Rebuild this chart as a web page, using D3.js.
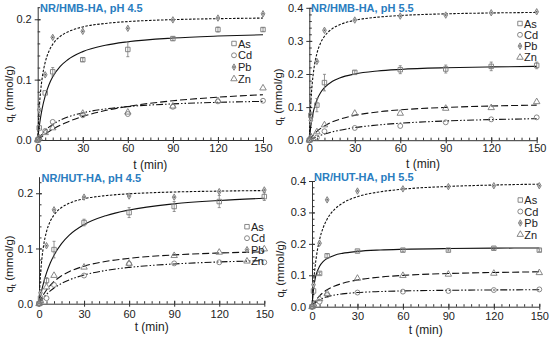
<!DOCTYPE html>
<html>
<head>
<meta charset="utf-8">
<script src="https://cdn.jsdelivr.net/npm/d3@7"></script>
<style>
  html, body { margin: 0; padding: 0; background: #fff; }
  svg { display: block; font-family: "Liberation Sans", Arial, sans-serif; }
</style>
</head>
<body>
<div id="chart"></div>
<script>
// sampling times of the measured points and of the fitted curves
const tData = [0, 1, 5, 10, 30, 60, 90, 120, 150];
const tFit = [0, 1, 2, 3, 5, 7.5, 10, 15, 20, 30, 45, 60, 90, 120, 150];
const metals = ["As", "Cd", "Pb", "Zn"];
const xTicks = [0, 30, 60, 90, 120, 150];

// NR/HMB-HA, pH 4.5
const hmb45As = [0, 0.020, 0.078, 0.113, 0.133, 0.150, 0.168, 0.183, 0.183];
const hmb45Cd = [0, 0.004, 0.015, 0.030, 0.041, 0.043, 0.055, 0.064, 0.065];
const hmb45Pb = [0, 0.050, 0.108, 0.170, 0.180, 0.185, 0.199, 0.202, 0.209];
const hmb45Zn = [0, 0.003, 0.012, 0.020, 0.044, 0.046, 0.056, 0.065, 0.086];
const hmb45AsErr = [0, 0, 0, 0.007, 0.003, 0.012, 0.003, 0.004, 0.003];
const hmb45AsFit = [0, 0.0215, 0.0385, 0.0523, 0.0732, 0.0915, 0.1046, 0.122, 0.133, 0.1464, 0.1569, 0.1627, 0.1689, 0.1722, 0.1743];
const hmb45CdFit = [0, 0.0038, 0.0073, 0.0104, 0.0158, 0.0213, 0.0258, 0.0328, 0.038, 0.045, 0.0514, 0.0553, 0.0598, 0.0624, 0.064];
const hmb45PbFit = [0, 0.0515, 0.0824, 0.103, 0.1288, 0.1471, 0.1585, 0.1717, 0.1791, 0.1873, 0.1931, 0.1962, 0.1994, 0.201, 0.202];
const hmb45ZnFit = [0, 0.0021, 0.0042, 0.0061, 0.0098, 0.0139, 0.0177, 0.0244, 0.030, 0.039, 0.0488, 0.0557, 0.065, 0.0709, 0.075];

// NR/HMB-HA, pH 5.5
const hmb55As = [0, 0.075, 0.106, 0.174, 0.205, 0.213, 0.215, 0.223, 0.226];
const hmb55Cd = [0, 0.003, 0.008, 0.027, 0.037, 0.043, 0.054, 0.063, 0.069];
const hmb55Pb = [0, 0.060, 0.238, 0.332, 0.363, 0.375, 0.378, 0.385, 0.388];
const hmb55Zn = [0, 0.010, 0.025, 0.046, 0.081, 0.081, 0.096, 0.098, 0.116];
const hmb55AsErr = [0, 0.01, 0.02, 0.025, 0.005, 0.012, 0.012, 0.013, 0.01];
const hmb55AsFit = [0, 0.0422, 0.0713, 0.0926, 0.1216, 0.1442, 0.159, 0.1771, 0.1879, 0.2, 0.209, 0.2138, 0.2188, 0.2214, 0.223];
const hmb55CdFit = [0, 0.0024, 0.0046, 0.0067, 0.0106, 0.0149, 0.0186, 0.025, 0.0302, 0.038, 0.0459, 0.0513, 0.0581, 0.0622, 0.065];
const hmb55PbFit = [0, 0.1121, 0.1744, 0.214, 0.2616, 0.2943, 0.3139, 0.3363, 0.3488, 0.3622, 0.3717, 0.3767, 0.3818, 0.3844, 0.386];
const hmb55ZnFit = [0, 0.0065, 0.0123, 0.0175, 0.0265, 0.0357, 0.0433, 0.0549, 0.0634, 0.075, 0.0854, 0.0917, 0.0991, 0.1033, 0.106];

// NR/HUT-HA, pH 4.5
const hut45As = [0, 0.010, 0.042, 0.098, 0.147, 0.165, 0.176, 0.185, 0.194];
const hut45Cd = [0, 0.004, 0.010, 0.034, 0.051, 0.072, 0.073, 0.075, 0.075];
const hut45Pb = [0, 0.020, 0.105, 0.170, 0.193, 0.195, 0.193, 0.203, 0.206];
const hut45Zn = [0, 0.005, 0.030, 0.051, 0.066, 0.073, 0.087, 0.093, 0.099];
const hut45AsErr = [0, 0, 0.005, 0.015, 0.006, 0.009, 0.009, 0.011, 0.007];
const hut45AsFit = [0, 0.0142, 0.0266, 0.0374, 0.0557, 0.0737, 0.0879, 0.1089, 0.1237, 0.1431, 0.1598, 0.1697, 0.1809, 0.187, 0.191];
const hut45CdFit = [0, 0.004, 0.0076, 0.011, 0.0169, 0.0231, 0.0284, 0.0367, 0.043, 0.052, 0.0604, 0.0657, 0.072, 0.0756, 0.078];
const hut45PbFit = [0, 0.0523, 0.0836, 0.1045, 0.1306, 0.1493, 0.1608, 0.1742, 0.1817, 0.19, 0.1959, 0.199, 0.2023, 0.2039, 0.2049];
const hut45ZnFit = [0, 0.0062, 0.0116, 0.0165, 0.0249, 0.0333, 0.0402, 0.0505, 0.0579, 0.068, 0.0768, 0.0822, 0.0884, 0.0918, 0.094];

// NR/HUT-HA, pH 5.5
const hut55As = [0, 0.050, 0.106, 0.162, 0.177, 0.180, 0.180, 0.186, 0.180];
const hut55Cd = [0, 0.004, 0.016, 0.037, 0.045, 0.048, 0.050, 0.053, 0.055];
const hut55Pb = [0, 0.070, 0.202, 0.340, 0.368, 0.375, 0.382, 0.385, 0.385];
const hut55Zn = [0, 0.008, 0.025, 0.042, 0.090, 0.099, 0.103, 0.106, 0.108];
const hut55AsErr = [0, 0, 0.004, 0.006, 0.003, 0.004, 0.003, 0.004, 0.004];
const hut55AsFit = [0, 0.0561, 0.0866, 0.1058, 0.1286, 0.1444, 0.1533, 0.1639, 0.1697, 0.176, 0.1804, 0.1827, 0.1851, 0.1863, 0.187];
const hut55CdFit = [0, 0.0064, 0.0115, 0.0156, 0.022, 0.0277, 0.0317, 0.0372, 0.0407, 0.045, 0.0483, 0.0502, 0.0522, 0.0533, 0.054];
const hut55PbFit = [0, 0.0744, 0.1254, 0.1627, 0.2135, 0.253, 0.2788, 0.3104, 0.329, 0.35, 0.3656, 0.374, 0.3827, 0.3872, 0.39];
const hut55ZnFit = [0, 0.009, 0.0167, 0.0234, 0.0346, 0.0453, 0.0537, 0.0658, 0.0742, 0.085, 0.0942, 0.0996, 0.1056, 0.1089, 0.111];

const width = 550;
const height = 339;

// layout of the four panels (pixel boxes), data hooked in by reference
const panels = [
  { title: "NR/HMB-HA, pH 4.5", x0: 37.7, x1: 263, y0: 140, y1: 7.2, yMax: 0.22, yTicks: [0, 0.1, 0.2],
    titleX: 40, titleY: 11.5, tickY: 152, labY: 169, qLabX: 13, qLabY: 94, legX: 234, legY: 43.5, legStep: 11.8,
    pts: [hmb45As, hmb45Cd, hmb45Pb, hmb45Zn], fit: [hmb45AsFit, hmb45CdFit, hmb45PbFit, hmb45ZnFit], err: hmb45AsErr },
  { title: "NR/HMB-HA, pH 5.5", x0: 309.3, x1: 536.7, y0: 140.2, y1: 7.8, yMax: 0.4, yTicks: [0, 0.1, 0.2, 0.3, 0.4],
    titleX: 311, titleY: 11.5, tickY: 152, labY: 168, qLabX: 282, qLabY: 97, legX: 520, legY: 23.5, legStep: 11.3,
    pts: [hmb55As, hmb55Cd, hmb55Pb, hmb55Zn], fit: [hmb55AsFit, hmb55CdFit, hmb55PbFit, hmb55ZnFit], err: hmb55AsErr },
  { title: "NR/HUT-HA, pH 4.5", x0: 39, x1: 264.3, y0: 303.7, y1: 176.7, yMax: 0.23, yTicks: [0, 0.1, 0.2],
    titleX: 41.5, titleY: 181.5, tickY: 318, labY: 331, qLabX: 13, qLabY: 264, legX: 247, legY: 226.7, legStep: 11.5,
    pts: [hut45As, hut45Cd, hut45Pb, hut45Zn], fit: [hut45AsFit, hut45CdFit, hut45PbFit, hut45ZnFit], err: hut45AsErr },
  { title: "NR/HUT-HA, pH 5.5", x0: 312, x1: 539.3, y0: 306.7, y1: 181, yMax: 0.4, yTicks: [0, 0.1, 0.2, 0.3, 0.4],
    titleX: 314, titleY: 181, tickY: 320.5, labY: 334, qLabX: 284, qLabY: 269, legX: 520.3, legY: 200, legStep: 11.5,
    pts: [hut55As, hut55Cd, hut55Pb, hut55Zn], fit: [hut55AsFit, hut55CdFit, hut55PbFit, hut55ZnFit], err: hut55AsErr },
];

const dashes = { As: null, Cd: "7,2,1.5,2,1.5,2", Pb: "2.5,1.5", Zn: "7,3" };
const symbols = { As: d3.symbolSquare, Cd: d3.symbolCircle, Pb: d3.symbolDiamond, Zn: d3.symbolTriangle };
const symSize = { As: 20, Cd: 19, Pb: 12, Zn: 18 };
const markColor = "#7a7a7a";

const svg = d3.select("#chart")
  .append("svg")
  .attr("width", width)
  .attr("height", height);

function marker(sel, m) {
  sel.append("path")
    .attr("d", d3.symbol(symbols[m], symSize[m])())
    .attr("fill", m === "Pb" ? "#cfcfcf" : "none")
    .attr("stroke", markColor)
    .attr("stroke-width", 0.9);
  if (m === "Pb") {
    sel.append("circle").attr("r", 0.8).attr("fill", "#555");
  }
}

panels.forEach(p => {
  const x = d3.scaleLinear().domain([0, 150]).range([p.x0, p.x1]);
  const y = d3.scaleLinear().domain([0, p.yMax]).range([p.y0, p.y1]);
  const g = svg.append("g");

  // minor ticks
  g.append("g")
    .attr("transform", `translate(0,${p.y0})`)
    .call(d3.axisBottom(x).tickValues(d3.range(0, 151, 5)).tickSize(-2.5).tickFormat("").tickSizeOuter(0))
    .call(a => a.select(".domain").remove());
  g.append("g")
    .attr("transform", `translate(${p.x0},0)`)
    .call(d3.axisLeft(y).tickValues(d3.range(0, p.yMax + 1e-9, 0.02)).tickSize(-2.5).tickFormat("").tickSizeOuter(0))
    .call(a => a.select(".domain").remove());

  // major axes
  const xa = g.append("g")
    .attr("transform", `translate(0,${p.y0})`)
    .call(d3.axisBottom(x).tickValues(xTicks).tickSize(3).tickSizeOuter(0).tickPadding(0));
  xa.selectAll(".tick line").attr("y1", -3).attr("y2", 3);
  xa.selectAll(".tick text")
    .attr("y", p.tickY - p.y0).attr("dy", null)
    .attr("font-size", 11).attr("font-family", null).attr("fill", "#222");

  const ya = g.append("g")
    .attr("transform", `translate(${p.x0},0)`)
    .call(d3.axisLeft(y).tickValues(p.yTicks).tickFormat(d3.format(".1f")).tickSize(3).tickSizeOuter(0).tickPadding(3));
  ya.selectAll(".tick line").attr("x1", 3).attr("x2", -3);
  ya.selectAll(".tick text").attr("font-size", 11).attr("font-family", null).attr("fill", "#222");
  g.selectAll(".domain").attr("stroke", "#333");
  g.selectAll(".tick line").attr("stroke", "#333");

  // labels
  g.append("text")
    .attr("x", (p.x0 + p.x1) / 2).attr("y", p.labY)
    .attr("text-anchor", "middle").attr("font-size", 12).attr("fill", "#222")
    .text("t (min)");
  const ql = g.append("text")
    .attr("transform", `translate(${p.qLabX},${p.qLabY}) rotate(-90)`)
    .attr("text-anchor", "middle").attr("font-size", 11.5).attr("fill", "#222");
  ql.append("tspan").text("q");
  ql.append("tspan").attr("font-size", 8).attr("dy", 3).text("t");
  ql.append("tspan").attr("dy", -3).text(" (mmol/g)");

  g.append("text")
    .attr("x", p.titleX).attr("y", p.titleY)
    .attr("font-size", 11).attr("font-weight", "bold").attr("fill", "#2a7dc0")
    .text(p.title);

  // fitted curves
  const line = d3.line().x((d, i) => x(tFit[i])).y(d => y(d)).curve(d3.curveMonotoneX);
  metals.forEach((m, k) => {
    g.append("path")
      .datum(p.fit[k])
      .attr("d", line)
      .attr("fill", "none")
      .attr("stroke", "#111")
      .attr("stroke-width", 1.1)
      .attr("stroke-dasharray", dashes[m]);
  });

  // error bars on As
  const eb = g.append("g").attr("stroke", markColor).attr("stroke-width", 0.8);
  p.err.forEach((e, i) => {
    if (!e) return;
    const v = p.pts[0][i], cx = x(tData[i]);
    eb.append("line").attr("x1", cx).attr("x2", cx).attr("y1", y(v - e)).attr("y2", y(v + e));
    eb.append("line").attr("x1", cx - 1.5).attr("x2", cx + 1.5).attr("y1", y(v + e)).attr("y2", y(v + e));
    eb.append("line").attr("x1", cx - 1.5).attr("x2", cx + 1.5).attr("y1", y(v - e)).attr("y2", y(v - e));
  });

  // points
  metals.forEach((m, k) => {
    g.append("g").selectAll("g")
      .data(p.pts[k])
      .join("g")
      .attr("transform", (d, i) => `translate(${x(tData[i])},${y(d)})`)
      .each(function() { marker(d3.select(this), m); });
  });

  // legend
  metals.forEach((m, k) => {
    const lg = g.append("g").attr("transform", `translate(${p.legX},${p.legY + k * p.legStep})`);
    marker(lg, m);
    lg.append("text").attr("x", 4).attr("y", 4).attr("font-size", 11).attr("fill", "#222").text(m);
  });
});
</script>
</body>
</html>
